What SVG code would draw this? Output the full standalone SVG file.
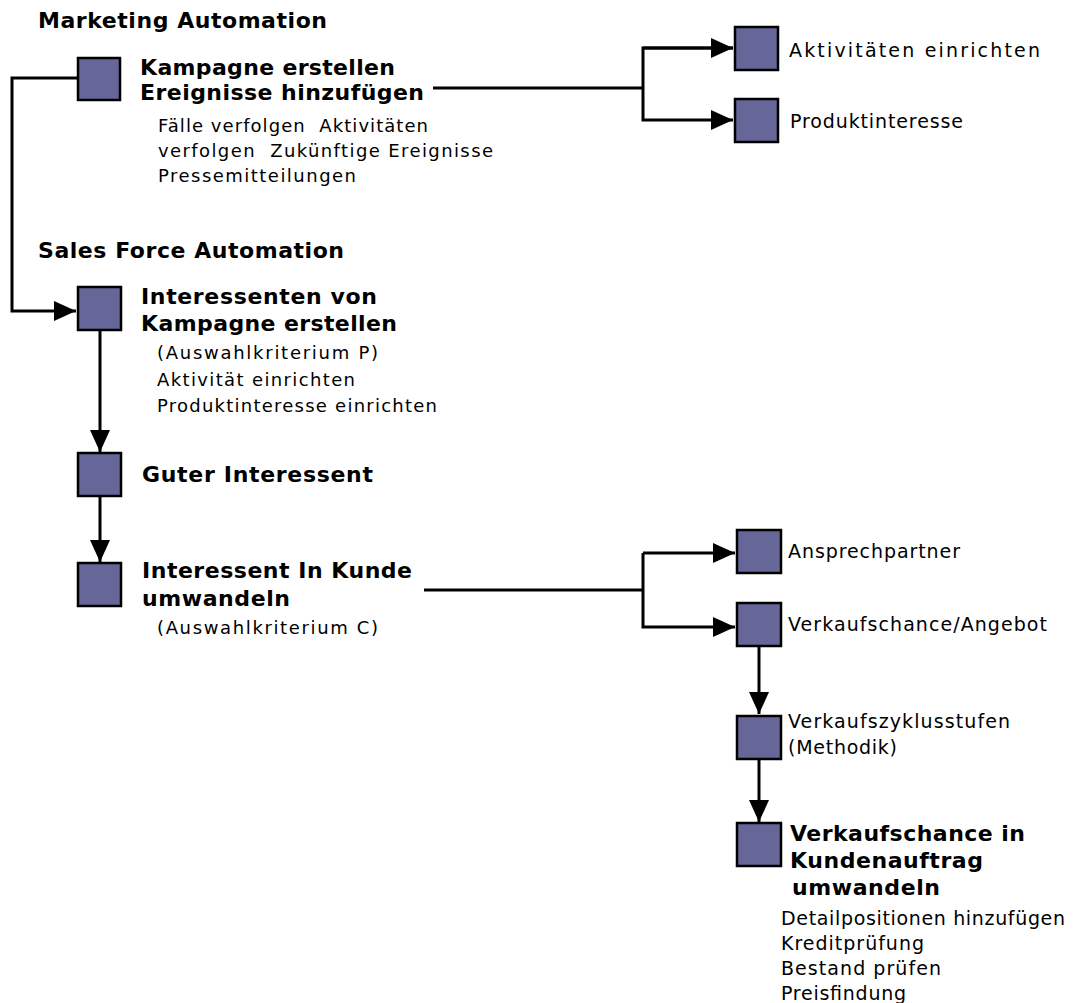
<svg xmlns="http://www.w3.org/2000/svg" width="1076" height="1003" viewBox="0 0 1076 1003">
<style>
text{font-family:"DejaVu Sans","Liberation Sans",sans-serif;fill:#000}
.h{font-weight:bold;font-size:22px}
.b{font-weight:bold;font-size:22px}
.s{font-size:18px}
.l{font-size:19px}
.box{fill:#666699;stroke:#000;stroke-width:2.5}
.c{fill:none;stroke:#000;stroke-width:3}
</style>
<defs>
<marker id="ah" markerUnits="userSpaceOnUse" markerWidth="22" markerHeight="20" refX="22" refY="10" orient="auto">
<path d="M0,0 L22,10 L0,20 Z" fill="#000"/>
</marker>
</defs>
<rect width="1076" height="1003" fill="#fff"/>
<text class="h" x="38" y="28" textLength="289">Marketing Automation</text>
<text class="h" x="38" y="258" textLength="306">Sales Force Automation</text>

<g id="connectors">
<polyline class="c" points="78,78 12,78 12,311 76,311" marker-end="url(#ah)"/>
<line class="c" x1="433" y1="88" x2="643" y2="88"/>
<polyline class="c" points="733,48 643,48 643,120 733,120" marker-end="url(#ah)"/>
<line class="c" x1="643" y1="48" x2="733" y2="48" marker-end="url(#ah)"/>
<line class="c" x1="100" y1="331" x2="100" y2="452" marker-end="url(#ah)"/>
<line class="c" x1="100" y1="497" x2="100" y2="562" marker-end="url(#ah)"/>
<line class="c" x1="424" y1="590" x2="643" y2="590"/>
<polyline class="c" points="643,553 643,627 735,627" marker-end="url(#ah)"/>
<line class="c" x1="643" y1="553" x2="735" y2="553" marker-end="url(#ah)"/>
<line class="c" x1="759" y1="647" x2="759" y2="714" marker-end="url(#ah)"/>
<line class="c" x1="759" y1="760" x2="759" y2="822" marker-end="url(#ah)"/>
</g>

<g id="n-kampagne">
<rect class="box" x="78" y="58" width="42" height="42"/>
<text class="b" x="140" y="75" textLength="255">Kampagne erstellen</text>
<text class="b" x="140" y="100" textLength="284">Ereignisse hinzufügen</text>
<text class="s" x="158" y="132" textLength="270" xml:space="preserve">Fälle verfolgen  Aktivitäten</text>
<text class="s" x="158" y="157" textLength="335" xml:space="preserve">verfolgen  Zukünftige Ereignisse</text>
<text class="s" x="158" y="182" textLength="198">Pressemitteilungen</text>
</g>
<g id="n-aktivitaeten">
<rect class="box" x="735" y="27" width="43" height="43"/>
<text class="l" x="789" y="57" textLength="251">Aktivitäten einrichten</text>
</g>
<g id="n-produktinteresse">
<rect class="box" x="735" y="99" width="43" height="43"/>
<text class="l" x="790" y="128" textLength="173">Produktinteresse</text>
</g>
<g id="n-interessenten">
<rect class="box" x="78" y="287" width="43" height="43"/>
<text class="b" x="141" y="304" textLength="236">Interessenten von</text>
<text class="b" x="141" y="331" textLength="256">Kampagne erstellen</text>
<text class="s" x="157" y="359" textLength="221">(Auswahlkriterium P)</text>
<text class="s" x="157" y="386" textLength="198">Aktivität einrichten</text>
<text class="s" x="157" y="412" textLength="280">Produktinteresse einrichten</text>
</g>
<g id="n-guter">
<rect class="box" x="78" y="453" width="43" height="43"/>
<text class="b" x="142" y="482" textLength="231">Guter Interessent</text>
</g>
<g id="n-umwandeln">
<rect class="box" x="78" y="563" width="43" height="43"/>
<text class="b" x="142" y="578" textLength="270">Interessent In Kunde</text>
<text class="b" x="142" y="606" textLength="148">umwandeln</text>
<text class="s" x="157" y="634" textLength="221">(Auswahlkriterium C)</text>
</g>
<g id="n-ansprechpartner">
<rect class="box" x="737" y="530" width="44" height="43"/>
<text class="l" x="788" y="558" textLength="172">Ansprechpartner</text>
</g>
<g id="n-verkaufschance">
<rect class="box" x="737" y="603" width="44" height="43"/>
<text class="l" x="788" y="631" textLength="259">Verkaufschance/Angebot</text>
</g>
<g id="n-zyklus">
<rect class="box" x="737" y="716" width="44" height="43"/>
<text class="l" x="788" y="728" textLength="222">Verkaufszyklusstufen</text>
<text class="l" x="788" y="754" textLength="109">(Methodik)</text>
</g>
<g id="n-auftrag">
<rect class="box" x="737" y="823" width="44" height="43"/>
<text class="b" x="790" y="841" textLength="235">Verkaufschance in</text>
<text class="b" x="790" y="868" textLength="193">Kundenauftrag</text>
<text class="b" x="792" y="895" textLength="148">umwandeln</text>
<text class="l" x="781" y="925" textLength="284">Detailpositionen hinzufügen</text>
<text class="l" x="781" y="950" textLength="143">Kreditprüfung</text>
<text class="l" x="781" y="975" textLength="160">Bestand prüfen</text>
<text class="l" x="781" y="1000" textLength="125">Preisfindung</text>
</g>
</svg>
